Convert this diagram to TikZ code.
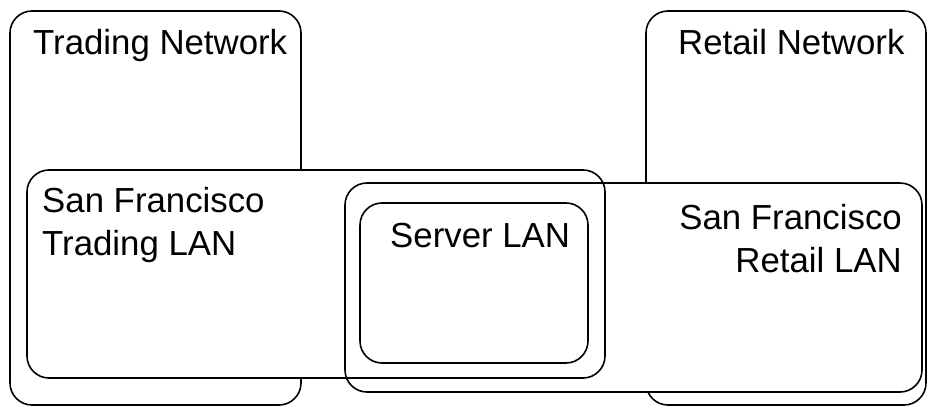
\documentclass[tikz,border=0pt]{standalone}
\usepackage{fontspec}
\setmainfont{Liberation Sans}
\begin{document}
\begin{tikzpicture}[
    x=1pt, y=1pt,
    net/.style={rectangle, draw, line width=1.6pt, fill=white, rounded corners=22pt, inner sep=0pt, outer sep=0pt},
    lanfill/.style={rectangle, fill=white, rounded corners=22pt, inner sep=0pt, outer sep=0pt},
    outline/.style={line width=1.6pt, rounded corners=22pt},
    lbl/.style={inner sep=0pt, font=\fontsize{34.8}{43}\selectfont}
]
\useasboundingbox (0,0) rectangle (928,-406);

% Networks
\node[net, minimum width=291pt, minimum height=394pt] (trading) at (155.5,-208) {};
\node[net, minimum width=280pt, minimum height=394pt] (retail) at (786,-208) {};

% LANs
\node[lanfill, minimum width=578pt, minimum height=208pt] (sftrading) at (316,-274) {};
\node[lanfill, minimum width=577pt, minimum height=209pt] (sfretail) at (633.5,-287.5) {};
\draw[outline] (sftrading.south west) rectangle (sftrading.north east);
\draw[outline] (sfretail.south west) rectangle (sfretail.north east);
\node[net, minimum width=228pt, minimum height=160pt] (server) at (474,-283) {};

% Labels
\node[lbl, anchor=base west] (tradingtxt) at ([xshift=23pt, yshift=-44pt]trading.north west) {Trading Network};
\node[lbl, anchor=base west] (retailtxt) at ([xshift=32pt, yshift=-44pt]retail.north west) {Retail Network};
\node[lbl, anchor=base west, align=left] (sftradingtxt) at ([xshift=15pt, yshift=-85pt]sftrading.north west) {San Francisco\\Trading LAN};
\node[lbl, anchor=base east, align=right] (sfretailtxt) at ([xshift=-20pt, yshift=-89pt]sfretail.north east) {San Francisco\\Retail LAN};
\node[lbl, anchor=base west] (servertxt) at ([xshift=30pt, yshift=-44pt]server.north west) {Server LAN};
\end{tikzpicture}
\end{document}
